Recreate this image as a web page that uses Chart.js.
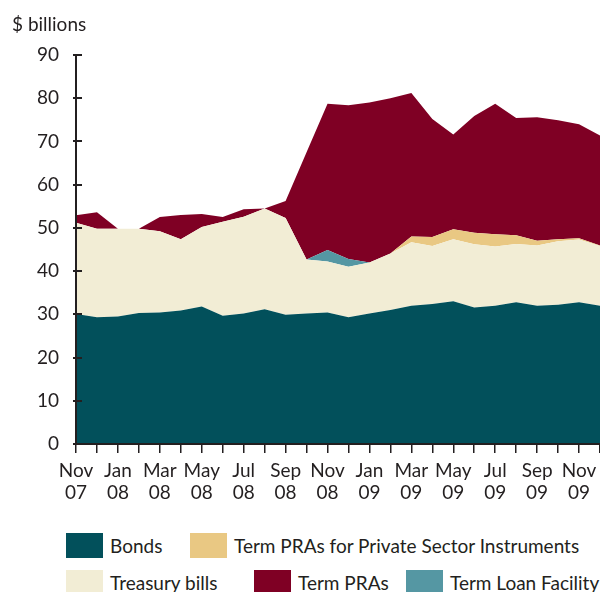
<!DOCTYPE html>
<html>
<head>
<meta charset="utf-8">
<title>Holdings</title>
<script src="https://cdn.jsdelivr.net/npm/chart.js@4.4.1/dist/chart.umd.min.js"></script>
<style>
    body { margin: 0; background: #fff; }
    #wrap { position: relative; width: 600px; height: 592px; overflow: hidden; font-family: Lato, sans-serif; color: #231f20; }
    #chart-box { position: absolute; left: 0; top: 0; width: 600px; height: 515px; }
    .legend-item { position: absolute; display: flex; align-items: center; font-size: 19px; white-space: nowrap; height: 25px; }
    .legend-item .sw { width: 37px; height: 25px; margin-right: 7px; flex: none; }
</style>
</head>
<body>
<div id="wrap">
    <div id="chart-box"><canvas id="myChart" width="600" height="515"></canvas></div>
    <div id="legend"></div>
</div>
<script>
// Monthly, Nov 2007 - Dec 2009 ($ billions)
const months = ['Nov 07', 'Dec 07', 'Jan 08', 'Feb 08', 'Mar 08', 'Apr 08', 'May 08', 'Jun 08', 'Jul 08',
    'Aug 08', 'Sep 08', 'Oct 08', 'Nov 08', 'Dec 08', 'Jan 09', 'Feb 09', 'Mar 09', 'Apr 09', 'May 09',
    'Jun 09', 'Jul 09', 'Aug 09', 'Sep 09', 'Oct 09', 'Nov 09', 'Dec 09'];

const bonds = [30.1, 29.3, 29.5, 30.3, 30.4, 30.9, 31.8, 29.7, 30.2, 31.2, 29.9, 30.2, 30.4,
    29.3, 30.2, 31.0, 32.0, 32.4, 33.0, 31.6, 32.0, 32.8, 32.0, 32.2, 32.8, 32.0];
const treasuryBills = [21.1, 20.5, 20.3, 19.5, 18.8, 16.5, 18.4, 21.7, 22.4, 23.3, 22.4, 12.5, 11.8,
    11.7, 11.8, 13.1, 14.7, 13.4, 14.4, 14.6, 13.7, 13.5, 13.9, 14.7, 14.5, 13.8];
const termLoanFacility = [0, 0, 0, 0, 0, 0, 0, 0, 0, 0, 0, 0, 2.7,
    1.8, 0, 0, 0, 0, 0, 0, 0, 0, 0, 0, 0, 0];
const privateSectorPRAs = [0, 0, 0, 0, 0, 0, 0, 0, 0, 0, 0, 0, 0,
    0, 0, 0, 1.3, 2.1, 2.3, 2.7, 2.8, 2.0, 1.1, 0.5, 0.3, 0.1];
const termPRAs = [1.7, 3.8, 0, 0, 3.3, 5.6, 3.0, 1.1, 1.7, 0, 3.9, 24.8, 33.8,
    35.6, 37.0, 35.9, 33.2, 27.3, 21.9, 27.0, 30.2, 27.1, 28.6, 27.5, 26.4, 25.5];

const yTicks = [0, 10, 20, 30, 40, 50, 60, 70, 80, 90];

const ink = '#231f20';
const axisFont = { family: 'Lato', size: 19 };

// where each legend entry sits, in dataset order
const legendPos = [
    { left: 66, top: 533 },
    { left: 66, top: 570 },
    { left: 406, top: 570 },
    { left: 190, top: 533 },
    { left: 254, top: 570 }
];

const area = (label, data, color, fill) => ({
    label: label,
    data: data,
    backgroundColor: color,
    borderColor: color,
    borderWidth: 0,
    pointRadius: 0,
    fill: fill,
    tension: 0
});

// inward y ticks, axis unit label
const axisExtras = {
    id: 'axisExtras',
    afterDatasetsDraw(chart) {
        const { ctx, chartArea, scales } = chart;
        const y = scales.y;
        ctx.save();
        ctx.strokeStyle = ink;
        ctx.lineWidth = 2;
        y.ticks.forEach((t, i) => {
            const py = Math.round(y.getPixelForTick(i));
            ctx.beginPath();
            ctx.moveTo(chartArea.left - 3, py);
            ctx.lineTo(chartArea.left + 6, py);
            ctx.stroke();
        });
        ctx.fillStyle = ink;
        ctx.font = '19px Lato';
        ctx.textBaseline = 'alphabetic';
        ctx.fillText('$ billions', 12, 31);
        ctx.restore();
    }
};

const ctx = document.getElementById('myChart').getContext('2d');
const myChart = new Chart(ctx, {
    type: 'line',
    data: {
        labels: months,
        datasets: [
            area('Bonds', bonds, '#02505b', 'origin'),
            area('Treasury bills', treasuryBills, '#f2edd5', '-1'),
            area('Term Loan Facility', termLoanFacility, '#5597a3', '-1'),
            area('Term PRAs for Private Sector Instruments', privateSectorPRAs, '#e9c883', '-1'),
            area('Term PRAs', termPRAs, '#7f0024', '-1')
        ]
    },
    options: {
        responsive: false,
        animation: false,
        layout: { padding: { top: 55, right: 0, left: 0, bottom: 0 } },
        plugins: {
            legend: { display: false },
            tooltip: { enabled: false }
        },
        scales: {
            x: {
                offset: false,
                afterFit: (s) => { s.height = 71; s.paddingLeft = 0; s.paddingRight = 0; },
                grid: { drawOnChartArea: false, drawTicks: true, tickLength: 9, color: ink, lineWidth: 1.5 },
                border: { display: true, color: ink, width: 2, z: 1 },
                ticks: {
                    autoSkip: false,
                    maxRotation: 0,
                    padding: 6,
                    color: ink,
                    font: axisFont,
                    callback: (value, index) => index % 2 === 0 ? months[index].split(' ') : ''
                }
            },
            y: {
                stacked: true,
                min: 0,
                max: 90,
                afterFit: (s) => { s.width = 76; },
                afterBuildTicks: (s) => { s.ticks = yTicks.map(v => ({ value: v })); },
                grid: { drawOnChartArea: false, drawTicks: false },
                border: { display: true, color: ink, width: 2, z: 1 },
                ticks: { padding: 17, color: ink, font: axisFont }
            }
        }
    },
    plugins: [axisExtras]
});

// legend built from the datasets
const legendEl = document.getElementById('legend');
myChart.data.datasets.forEach((ds, i) => {
    const item = document.createElement('div');
    item.className = 'legend-item';
    item.style.left = legendPos[i].left + 'px';
    item.style.top = legendPos[i].top + 'px';
    const sw = document.createElement('span');
    sw.className = 'sw';
    sw.style.background = ds.backgroundColor;
    item.appendChild(sw);
    item.appendChild(document.createTextNode(ds.label));
    legendEl.appendChild(item);
});
</script>
</body>
</html>
